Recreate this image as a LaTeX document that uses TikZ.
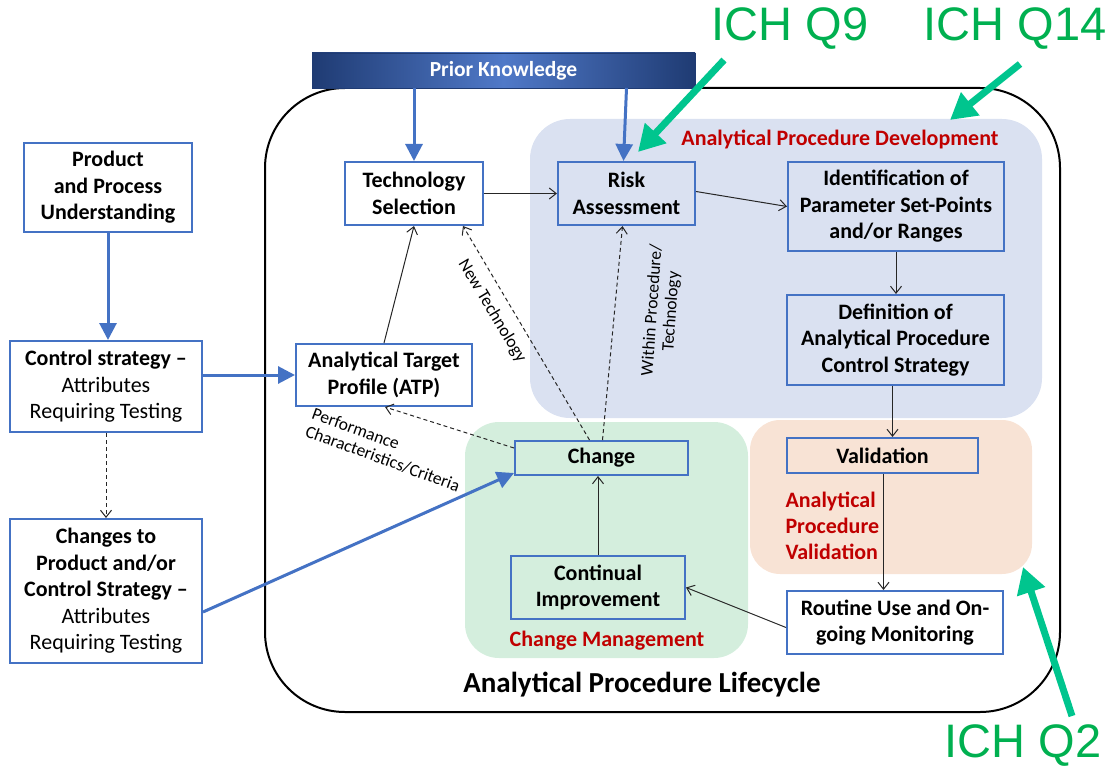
\documentclass[tikz,border=0pt]{standalone}
\usepackage{fontspec}
\setmainfont{Carlito}
\newfontfamily\ichfont{Liberation Sans}
\usetikzlibrary{arrows.meta,calc}

\definecolor{boxblue}{HTML}{4472C4}
\definecolor{devblue}{HTML}{DAE1F1}
\definecolor{cmgreen}{HTML}{D4EEDD}
\definecolor{valorange}{HTML}{F8E3D5}
\definecolor{titlered}{HTML}{C00000}
\definecolor{ichgreen}{HTML}{00B050}
\definecolor{arrowgreen}{HTML}{00C58E}
\definecolor{navydark}{HTML}{1F3B73}
\definecolor{navylight}{HTML}{5079C8}

\tikzset{
  stepbox/.style={draw=boxblue, line width=2pt, align=center, inner sep=0pt,
    font=\bfseries\fontsize{22}{26.5}\selectfont},
  plainbox/.style={stepbox, font=\fontsize{22}{26.5}\selectfont},
  regiontitle/.style={text=titlered, font=\bfseries\fontsize{22}{26}\selectfont, align=center},
  feed/.style={draw=boxblue, line width=3pt, -{Triangle[length=17pt,width=17pt]}},
  flow/.style={draw=black!85, line width=1pt, -{Straight Barb[length=7pt,width=11pt]}},
  dflow/.style={flow, dash pattern=on 4pt off 3pt},
  cnlabel/.style={font=\fontsize{17.5}{19}\selectfont, align=center, inner sep=0pt},
  ichlabel/.style={text=ichgreen, font=\ichfont\fontsize{47}{50}\selectfont, inner sep=0pt},
  icharrow/.style={draw=arrowgreen, line width=7pt, -{Triangle[length=26pt,width=28pt]}}
}

\begin{document}
\begin{tikzpicture}[x=1pt, y=-1pt]
\useasboundingbox (0,0) rectangle (1107,767);

% lifecycle frame
\draw[line width=2pt, rounded corners=80pt] (265,88) rectangle (1060,712);

% coloured stage regions
\fill[devblue, rounded corners=40pt] (530,119) rectangle (1042,418);
\fill[cmgreen, rounded corners=34pt] (465,422) rectangle (748,658);
\fill[valorange, rounded corners=30pt] (750,420) rectangle (1032,574);

% prior knowledge banner
\shade[left color=navydark, right color=navydark, middle color=navylight]
  (312,53) rectangle (695,88);
\draw[navydark, line width=0.8pt] (312,53) rectangle (695,88);
\node[text=white, font=\bfseries\fontsize{21.5}{23}\selectfont] (prior) at (503.5,70.5) {Prior Knowledge};
\coordinate (priorbottom) at (503.5,88);

% region titles
\node[regiontitle] (devtitle) at (840,139) {Analytical Procedure Development};
\node[regiontitle, align=left, anchor=north west] (valtitle) at (782,488) {Analytical\\Procedure\\Validation};
\node[regiontitle] (cmtitle) at (607,641) {Change Management};
\node[font=\bfseries\fontsize{29}{32}\selectfont] (lifetitle) at (642,685) {Analytical Procedure Lifecycle};

% boxes
\node[stepbox, minimum width=168, minimum height=89] (prod) at (108,187.5) {Product\\and Process\\Understanding};
\node[plainbox, minimum width=192, minimum height=91] (ctrl) at (106,386.5)
  {\textbf{Control strategy –}\\Attributes\\Requiring Testing};
\node[plainbox, minimum width=192, minimum height=144] (changes) at (106,591)
  {\textbf{Changes to}\\\textbf{Product and/or}\\\textbf{Control Strategy –}\\Attributes\\Requiring Testing};
\node[stepbox, minimum width=138, minimum height=63] (tech) at (414,193.5) {Technology\\Selection};
\node[stepbox, minimum width=137, minimum height=63] (risk) at (626.5,193.5) {Risk\\Assessment};
\node[stepbox, minimum width=216, minimum height=89] (ident) at (896,206.5) {Identification of\\Parameter Set-Points\\and/or Ranges};
\node[stepbox, minimum width=217, minimum height=90] (def) at (895.5,340) {Definition of\\Analytical Procedure\\Control Strategy};
\node[stepbox, minimum width=176, minimum height=62] (atp) at (384,375) {Analytical Target\\Profile (ATP)};
\node[stepbox, minimum width=173, minimum height=34] (change) at (601.5,458) {Change};
\node[stepbox, minimum width=174, minimum height=63] (cont) at (598,587.5) {Continual\\Improvement};
\node[stepbox, minimum width=191, minimum height=35] (valid) at (882.5,455.5) {Validation};
\node[stepbox, fill=white, minimum width=216, minimum height=63] (routine) at (895,622.5) {Routine Use and On-\\going Monitoring};

% inputs
\draw[feed] (priorbottom -| tech.north) -- (tech.north);
\draw[feed] (priorbottom -| risk.north) -- ([xshift=-3]risk.north);
\draw[feed] (prod.south) -- (prod.south |- ctrl.north);
\draw[feed] (ctrl.east |- atp.west) -- (atp.west);
\draw[feed] ([yshift=-21]changes.east) -- ([yshift=3]change.south west);
\draw[dflow] (ctrl.south) -- (changes.north);

% lifecycle flow
\draw[flow] (atp.north) -- (tech.south);
\draw[flow] (tech.east) -- (risk.west);
\draw[flow] ([yshift=2]risk.east) -- (ident.west);
\draw[flow] (ident.south) -- (ident.south |- def.north);
\draw[flow] ([xshift=-3]def.south) -- ([xshift=-3]def.south |- valid.north);
\draw[flow] ([xshift=1]valid.south) -- ([xshift=1]valid.south |- routine.north);
\draw[flow] ([yshift=-5]routine.west) -- (cont.east);
\draw[flow] (cont.north) -- (cont.north |- change.south);

% feedback from change
\draw[dflow] ([yshift=10]change.west) -- ([xshift=1]atp.south);
\draw[dflow] ([xshift=-12]change.north) -- ([xshift=49]tech.south);
\draw[dflow] ([xshift=1]change.north) -- ([xshift=-4]risk.south);

% connector labels
\node[cnlabel, rotate=-59] (newtech) at (492,311) {New Technology};
\node[cnlabel, rotate=86] (within) at (662,311) {Within Procedure/\\Technology};
\node[cnlabel, rotate=-20, align=left] (perf) at (386,450) {Performance\\Characteristics/Criteria};

% guideline call-outs
\node[ichlabel] (q9) at (790,29) {ICH Q9};
\node[ichlabel] (q14) at (1015,29) {ICH Q14};
\node[ichlabel] (q2) at (1023,746) {ICH Q2};
\coordinate (q9tip) at (638,152);
\coordinate (q14tip) at (950,120);
\coordinate (q2tip) at (1023,567);
\draw[icharrow] (724,60) -- (q9tip);
\draw[icharrow] (1020,64) -- (q14tip);
\draw[icharrow] (1072,716) -- (q2tip);
\end{tikzpicture}
\end{document}
